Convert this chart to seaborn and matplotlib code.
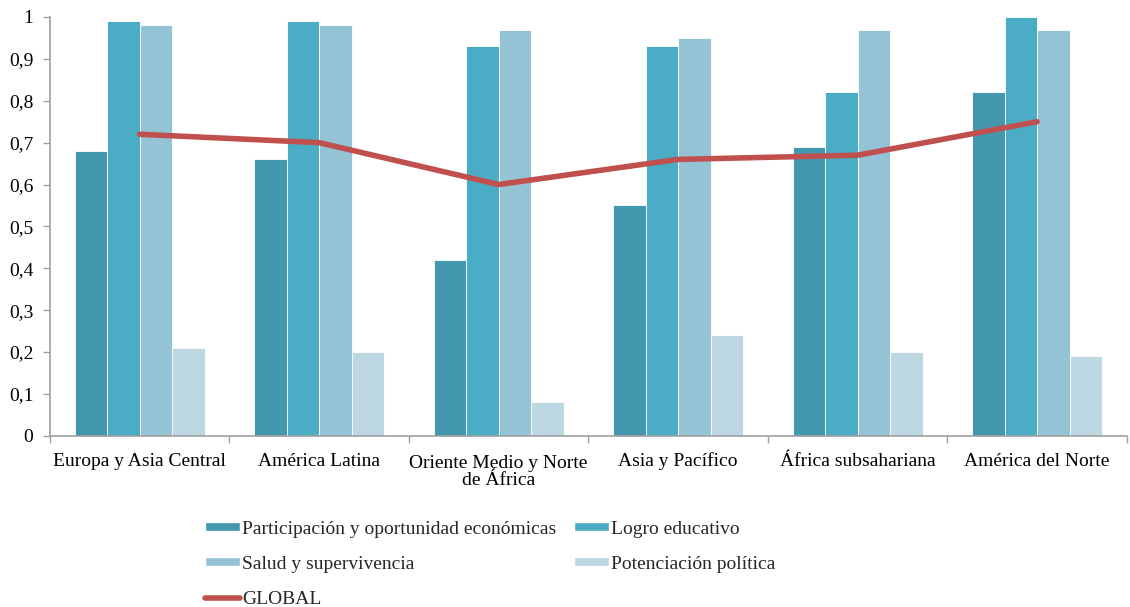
import matplotlib
matplotlib.use("Agg")
import matplotlib.pyplot as plt
from matplotlib.patches import Patch
from matplotlib.lines import Line2D
from matplotlib.ticker import FixedLocator, FuncFormatter
from matplotlib.transforms import ScaledTranslation
import seaborn as sns
import pandas as pd
import numpy as np

regiones = ["Europa y Asia Central", "América Latina", "Oriente Medio y Norte\nde África",
            "Asia y Pacífico", "África subsahariana", "América del Norte"]
series = ["Participación y oportunidad económicas", "Logro educativo",
          "Salud y supervivencia", "Potenciación política"]
participacion = [0.68, 0.66, 0.42, 0.55, 0.69, 0.82]
logro = [0.99, 0.99, 0.93, 0.93, 0.82, 1.00]
salud = [0.98, 0.98, 0.97, 0.95, 0.97, 0.97]
potenciacion = [0.21, 0.20, 0.08, 0.24, 0.20, 0.19]
global_idx = [0.72, 0.70, 0.60, 0.66, 0.67, 0.75]

colores = ["#4397AF", "#4BACC6", "#93C3D5", "#BDD8E3"]
color_global = "#C0504D"

sns.set_theme(style="white")
plt.rcParams["font.family"] = ["Liberation Serif", "DejaVu Serif"]

df = pd.DataFrame({
    "region": np.repeat(regiones, len(series)),
    "serie": series * len(regiones),
    "valor": np.ravel(np.column_stack([participacion, logro, salud, potenciacion])),
})

fig = plt.figure(figsize=(11.30, 6.07), dpi=100)
ax = fig.add_axes([0.0442, 0.282, 0.953, 0.690])

sns.barplot(data=df, x="region", y="valor", hue="serie", hue_order=series,
            order=regiones, palette=colores, width=0.725, gap=0, dodge=True,
            edgecolor="white", linewidth=0.6, saturation=1, legend=False, ax=ax)
ax.plot(range(len(regiones)), global_idx, color=color_global, lw=4,
        solid_capstyle="round", solid_joinstyle="round", zorder=5)

ax.set_xlim(-0.5, len(regiones) - 0.5)
ax.set_ylim(0, 1)
ax.set_xlabel("")
ax.set_ylabel("")
ax.yaxis.set_major_locator(FixedLocator(np.round(np.arange(0, 1.01, 0.1), 1)))
ax.yaxis.set_major_formatter(FuncFormatter(
    lambda v, _: "0" if abs(v) < 1e-9 else ("1" if abs(v - 1) < 1e-9 else f"{v:.1f}".replace(".", ","))))

ax.xaxis.set_minor_locator(FixedLocator(np.arange(-0.5, len(regiones), 1.0)))
ax.tick_params(axis="x", which="major", length=0, labelsize=14, pad=21.5, colors="black")
ax.tick_params(axis="x", which="minor", length=5, width=1, color="#A0A0A0", direction="out", bottom=True)
ax.tick_params(axis="y", which="major", length=5, width=1, color="#A0A0A0", direction="out",
               left=True, labelsize=14, pad=7, labelcolor="black")

# baseline-aligned category labels; a two-line label is moved down so its
# first line sits on the shared baseline
for lbl in ax.get_xticklabels():
    lbl.set_verticalalignment("baseline")
    lbl.set_linespacing(1.05)
    n_lineas = lbl.get_text().count("\n")
    if n_lineas:
        lbl.set_transform(lbl.get_transform() +
                          ScaledTranslation(0, -0.195 * n_lineas, fig.dpi_scale_trans))

for s in ["top", "right"]:
    ax.spines[s].set_visible(False)
for s in ["left", "bottom"]:
    ax.spines[s].set_color("#A0A0A0")
    ax.spines[s].set_linewidth(1.2)

handles = [Patch(facecolor=colores[0]), Patch(facecolor=colores[2]),
           Line2D([0], [0], color=color_global, lw=4, solid_capstyle="round"),
           Patch(facecolor=colores[1]), Patch(facecolor=colores[3])]
labels = [series[0], series[2], "GLOBAL", series[1], series[3]]
fig.legend(handles, labels, ncol=2, frameon=False, loc="upper left",
           bbox_to_anchor=(0.166, 0.171), fontsize=14, handlelength=1.8,
           handleheight=0.35, handletextpad=0.1, columnspacing=0.9,
           labelspacing=0.93)

fig.savefig("out.png", dpi=100, facecolor="white")
